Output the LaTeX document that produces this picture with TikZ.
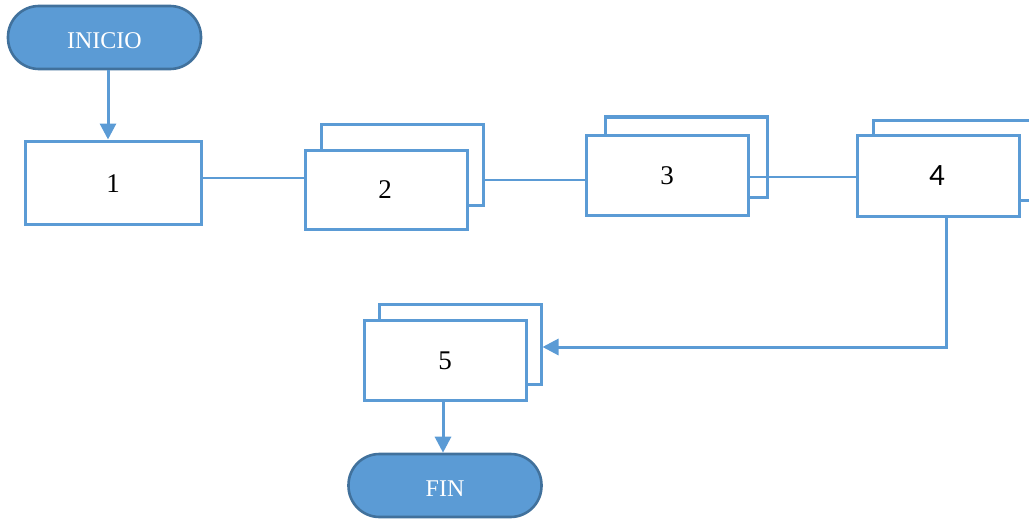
\documentclass[tikz,border=0pt]{standalone}
\usepackage{fontspec}
\setmainfont{Liberation Serif}
\newfontfamily\numsans{Carlito}
\usetikzlibrary{arrows.meta}
\definecolor{flowblue}{HTML}{5B9BD5}
\definecolor{flowedge}{HTML}{41719C}
\tikzset{
  terminal/.style={draw=flowedge, line width=2.6pt, fill=flowblue,
    rounded corners=31pt, minimum width=193pt, minimum height=63pt, inner sep=0pt},
  termtext/.style={text=white, font=\fontsize{24}{26}\selectfont},
  procbox/.style={draw=flowblue, line width=3pt, fill=white, inner sep=0pt,
    minimum width=162pt, minimum height=80pt},
  boxtext/.style={font=\fontsize{27}{29}\selectfont},
  link/.style={draw=flowblue, line width=1.5pt},
  flow/.style={draw=flowblue, line width=3pt, -{Triangle[width=16pt,length=16pt]}}
}
\begin{document}
\begin{tikzpicture}[x=1pt,y=-1pt]
\useasboundingbox (0,0) rectangle (1029,519);
% start / end terminals
\node[terminal] (start) at (104.5,37.5) {};
\node[termtext] at (104.5,40.5) {INICIO};
\node[terminal] (stop) at (445,485.5) {};
\node[termtext] at (445,489) {FIN};
% single process
\node[procbox, minimum width=176pt, minimum height=83pt] (b1) at (113,182.5) {};
\node[boxtext] at (113,184) {1};
% stacked processes: back sheet first, front sheet on top
\node[procbox, minimum height=81pt] (b2b) at (402,164.5) {};
\node[procbox, minimum height=79pt] (b2) at (386,189.5) {};
\node[boxtext] at (385,190) {2};
\node[procbox] (b3b) at (686,157) {};
\node[procbox] (b3) at (667,175) {};
\node[boxtext] at (667,176) {3};
\node[procbox] (b4b) at (954,160) {};
\node[procbox, minimum height=81pt] (b4) at (938,175.5) {};
\node at (937,176) {\numsans\fontsize{31}{33}\selectfont 4};
\node[procbox] (b5b) at (460,344) {};
\node[procbox] (b5) at (445.5,360) {};
\node[boxtext] at (445,361) {5};
% connectors
\draw[flow] (start.south -| 108,0) -- (b1.north -| 108,0);
\draw[link] (b1.east |- 0,178) -- (b2.west |- 0,178);
\draw[link] (b2b.east |- 0,180) -- (b3.west |- 0,180);
\draw[link] (b3.east |- 0,177) -- (b4.west |- 0,177);
\draw[flow] ([xshift=8pt]b4.south) |- ([yshift=-3pt]b5b.east);
\draw[flow] (b5.south -| 443,0) -- (stop.north -| 443,0);
\end{tikzpicture}
\end{document}
